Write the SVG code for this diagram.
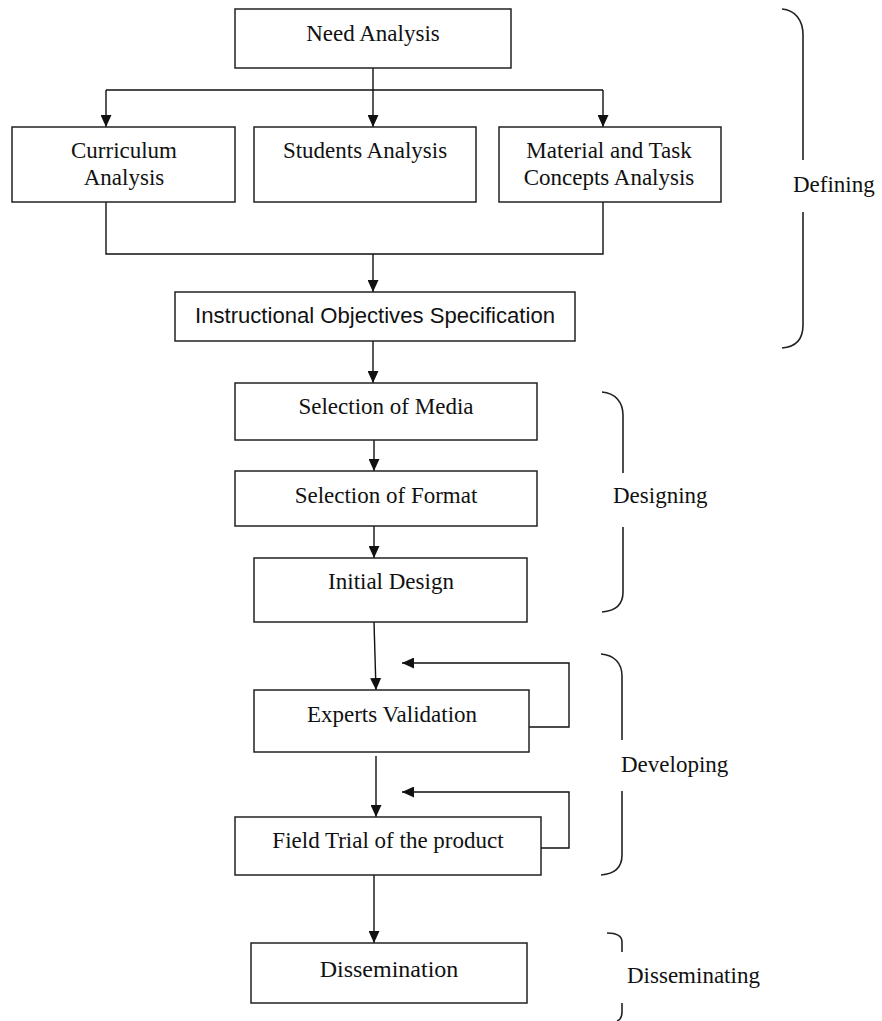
<svg xmlns="http://www.w3.org/2000/svg" width="882" height="1021" viewBox="0 0 882 1021">
<defs>
<marker id="ah" markerUnits="userSpaceOnUse" markerWidth="12" markerHeight="11" refX="12" refY="5.5" orient="auto">
<path d="M0,0 L12,5.5 L0,11 z" fill="#111"/>
</marker>
<style>
.box{fill:#fff;stroke:#222;stroke-width:1.5}
.t{font-family:"Liberation Serif","Times New Roman",serif;font-size:23px;fill:#111;text-anchor:middle}
.s{font-family:"Liberation Sans",Arial,sans-serif;font-size:22px;fill:#111;text-anchor:middle}
.lbl{font-family:"Liberation Serif","Times New Roman",serif;font-size:23px;fill:#111}
.ln{fill:none;stroke:#111;stroke-width:1.4}
.br{fill:none;stroke:#222;stroke-width:1.6}
</style>
</defs>
<rect width="882" height="1021" fill="#fff"/>
<g id="connectors">
<path class="ln" d="M373,68 V90 M106,90 H603"/>
<path class="ln" d="M106,90 V127" marker-end="url(#ah)"/>
<path class="ln" d="M373,90 V127" marker-end="url(#ah)"/>
<path class="ln" d="M603,90 V127" marker-end="url(#ah)"/>
<path class="ln" d="M106,202 V254 H603 V202"/>
<path class="ln" d="M373,254 V292" marker-end="url(#ah)"/>
<path class="ln" d="M373,341 V383" marker-end="url(#ah)"/>
<path class="ln" d="M374,440 V471" marker-end="url(#ah)"/>
<path class="ln" d="M374,526 V558" marker-end="url(#ah)"/>
<path class="ln" d="M374,622 L376,690" marker-end="url(#ah)"/>
<path class="ln" d="M529,727 H569 V663 H402" marker-end="url(#ah)"/>
<path class="ln" d="M376,756 V817" marker-end="url(#ah)"/>
<path class="ln" d="M541,848 H569 V792 H402" marker-end="url(#ah)"/>
<path class="ln" d="M374,875 V943" marker-end="url(#ah)"/>
</g>
<g id="need-analysis"><rect class="box" x="235" y="9" width="276" height="59"/><text class="t" x="373" y="41">Need Analysis</text></g>
<g id="curriculum-analysis"><rect class="box" x="12" y="127" width="223" height="75"/><text class="t" x="124" y="158">Curriculum</text><text class="t" x="124" y="185">Analysis</text></g>
<g id="students-analysis"><rect class="box" x="254" y="127" width="222" height="75"/><text class="t" x="365" y="158">Students Analysis</text></g>
<g id="material-analysis"><rect class="box" x="499" y="127" width="222" height="75"/><text class="t" x="609" y="158">Material and Task</text><text class="t" x="609" y="185">Concepts Analysis</text></g>
<g id="instructional-objectives"><rect class="box" x="175" y="292" width="400" height="49"/><text class="s" x="375" y="323" textLength="360" lengthAdjust="spacingAndGlyphs">Instructional Objectives Specification</text></g>
<g id="selection-media"><rect class="box" x="235" y="383" width="302" height="57"/><text class="t" x="386" y="414">Selection of Media</text></g>
<g id="selection-format"><rect class="box" x="235" y="471" width="302" height="55"/><text class="t" x="386" y="503">Selection of Format</text></g>
<g id="initial-design"><rect class="box" x="254" y="558" width="273" height="64"/><text class="t" x="391" y="589">Initial Design</text></g>
<g id="experts-validation"><rect class="box" x="254" y="690" width="275" height="62"/><text class="t" x="392" y="722">Experts Validation</text></g>
<g id="field-trial"><rect class="box" x="235" y="817" width="306" height="58"/><text class="t" x="388" y="848">Field Trial of the product</text></g>
<g id="dissemination"><rect class="box" x="251" y="943" width="276" height="60"/><text class="t" x="389" y="977" style="font-size:24px">Dissemination</text></g>
<g id="phase-defining"><path class="br" d="M782,9 C795,10 803,20 803,35 V160 M803,212 V325 C803,340 795,347 782,348"/><text class="lbl" x="793" y="192">Defining</text></g>
<g id="phase-designing"><path class="br" d="M602,392 C615,393 623,402 623,415 V473 M623,527 V592 C623,605 615,611 602,612"/><text class="lbl" x="613" y="503">Designing</text></g>
<g id="phase-developing"><path class="br" d="M601,654 C614,655 622,663 622,676 V740 M622,791 V855 C622,868 614,874 601,875"/><text class="lbl" x="621" y="772">Developing</text></g>
<g id="phase-disseminating"><path class="br" d="M607,933 C617,933 622,936 622,942 V952 M622,1003 V1012 C622,1017 620,1020 617,1021"/><text class="lbl" x="627" y="983">Disseminating</text></g>
</svg>
